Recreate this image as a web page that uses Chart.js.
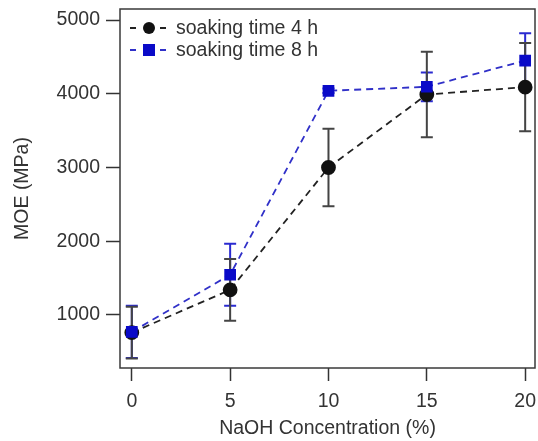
<!DOCTYPE html>
<html>
<head>
<meta charset="utf-8">
<script src="https://cdn.jsdelivr.net/npm/chart.js@4.4.1/dist/chart.umd.min.js"></script>
<style>
  html, body { margin: 0; padding: 0; background: #fff; }
  #wrap { width: 538px; height: 441px; }
</style>
</head>
<body>
<div id="wrap"><canvas id="moeChart"></canvas></div>
<script>
"use strict"

// NaOH concentration (%)
const naoh = [0, 5, 10, 15, 20];
// MOE (MPa), soaking 4 h
const moe4h = [760, 1340, 3000, 3990, 4090];
const err4h = [350, 420, 525, 580, 600];
// MOE (MPa), soaking 8 h
const moe8h = [770, 1545, 4040, 4095, 4450];
const err8h = [355, 420, 30, 195, 370];

const xTicks = [0, 5, 10, 15, 20];
const yTicks = [1000, 2000, 3000, 4000, 5000];

const black = "#111111";
const blue = "#0a0ac8";
const fontFam = "'Liberation Sans', Arial, sans-serif";
const fontSize = 19.5;

const toPoints = (xs, ys) => xs.map((x, i) => ({ x: x, y: ys[i] }));

// error bars + frame
const errorBars = {
  id: "errorBars",
  beforeDatasetsDraw(chart) {
    const ctx = chart.ctx;
    const xs = chart.scales.x;
    const ys = chart.scales.y;
    chart.data.datasets.forEach((ds) => {
      ctx.save();
      ctx.strokeStyle = ds.errColor;
      ctx.lineWidth = 2;
      ds.data.forEach((p, i) => {
        const e = ds.errors[i];
        const px = xs.getPixelForValue(p.x);
        const top = ys.getPixelForValue(p.y + e);
        const bot = ys.getPixelForValue(p.y - e);
        ctx.beginPath();
        ctx.moveTo(px, top);
        ctx.lineTo(px, bot);
        ctx.moveTo(px - 6, top);
        ctx.lineTo(px + 6, top);
        ctx.moveTo(px - 6, bot);
        ctx.lineTo(px + 6, bot);
        ctx.stroke();
      });
      ctx.restore();
    });
  },
  afterDraw(chart) {
    const ctx = chart.ctx;
    const a = chart.chartArea;
    ctx.save();
    ctx.strokeStyle = "#3a3a3a";
    ctx.lineWidth = 1.5;
    ctx.strokeRect(a.left, a.top, a.right - a.left, a.bottom - a.top);
    ctx.restore();
  }
};

// legend drawn inside the plot, top left
const innerLegend = {
  id: "innerLegend",
  afterDraw(chart) {
    const ctx = chart.ctx;
    const a = chart.chartArea;
    const rows = [chart.data.datasets[1], chart.data.datasets[0]];
    ctx.save();
    rows.forEach((ds, i) => {
      const y = a.top + 19 + i * 22;
      const x0 = a.left + 10;
      ctx.strokeStyle = ds.borderColor;
      ctx.lineWidth = 2;
      ctx.beginPath();
      ctx.moveTo(x0, y); ctx.lineTo(x0 + 6, y);
      ctx.moveTo(x0 + 30, y); ctx.lineTo(x0 + 36, y);
      ctx.stroke();
      ctx.fillStyle = ds.pointBackgroundColor;
      if (ds.pointStyle === "rect") {
        ctx.fillRect(x0 + 13, y - 6, 12, 12);
      } else {
        ctx.beginPath();
        ctx.arc(x0 + 19, y, 6, 0, Math.PI * 2);
        ctx.fill();
      }
      ctx.fillStyle = "#333";
      ctx.font = fontSize + "px " + fontFam;
      ctx.textBaseline = "middle";
      ctx.fillText(ds.label, x0 + 46, y + 1);
    });
    ctx.restore();
  }
};

new Chart(document.getElementById("moeChart"), {
  type: "line",
  data: {
    datasets: [
      {
        label: "soaking time 8 h",
        data: toPoints(naoh, moe8h),
        errors: err8h,
        errColor: "#2a2ad0",
        borderColor: "#3030c8",
        borderWidth: 1.8,
        borderDash: [7, 5],
        pointStyle: "rect",
        pointRadius: 7,
        pointBackgroundColor: blue,
        pointBorderColor: blue,
        order: 0
      },
      {
        label: "soaking time 4 h",
        data: toPoints(naoh, moe4h),
        errors: err4h,
        errColor: "#444",
        borderColor: "#222",
        borderWidth: 1.8,
        borderDash: [7, 5],
        pointStyle: "circle",
        pointRadius: 6.5,
        pointBackgroundColor: black,
        pointBorderColor: black,
        order: 1
      }
    ]
  },
  options: {
    responsive: true,
    maintainAspectRatio: false,
    animation: false,
    layout: { autoPadding: false, padding: { top: 9, right: 3, left: 0, bottom: 0 } },
    plugins: {
      legend: { display: false },
      tooltip: { enabled: false }
    },
    scales: {
      x: {
        type: "linear",
        min: -0.6,
        max: 20.5,
        afterBuildTicks: (s) => { s.ticks = xTicks.map(v => ({ value: v })); },
        afterFit: (s) => { s.height = 73; s.paddingRight = 0; },
        grid: { drawOnChartArea: false, drawTicks: true, tickLength: 13, tickColor: "#333", tickWidth: 1.5 },
        border: { display: false },
        ticks: { color: "#333", font: { family: fontFam, size: fontSize }, padding: 9, maxRotation: 0 },
        title: { display: true, text: "NaOH Concentration (%)", color: "#333", font: { family: fontFam, size: fontSize }, padding: { top: 0, bottom: 1 } }
      },
      y: {
        type: "linear",
        min: 280,
        max: 5150,
        afterBuildTicks: (s) => { s.ticks = yTicks.map(v => ({ value: v })); },
        afterFit: (s) => { s.width = 120; s.paddingTop = 0; s.paddingBottom = 0; },
        grid: { drawOnChartArea: false, drawTicks: true, tickLength: 14, tickColor: "#333", tickWidth: 1.5 },
        border: { display: false },
        ticks: { color: "#333", font: { family: fontFam, size: fontSize }, padding: 6, callback: (v) => String(v) },
        title: { display: true, text: "MOE (MPa)", color: "#333", font: { family: fontFam, size: fontSize }, padding: { top: 11, bottom: 0 } }
      }
    }
  },
  plugins: [errorBars, innerLegend]
});
</script>
</body>
</html>
